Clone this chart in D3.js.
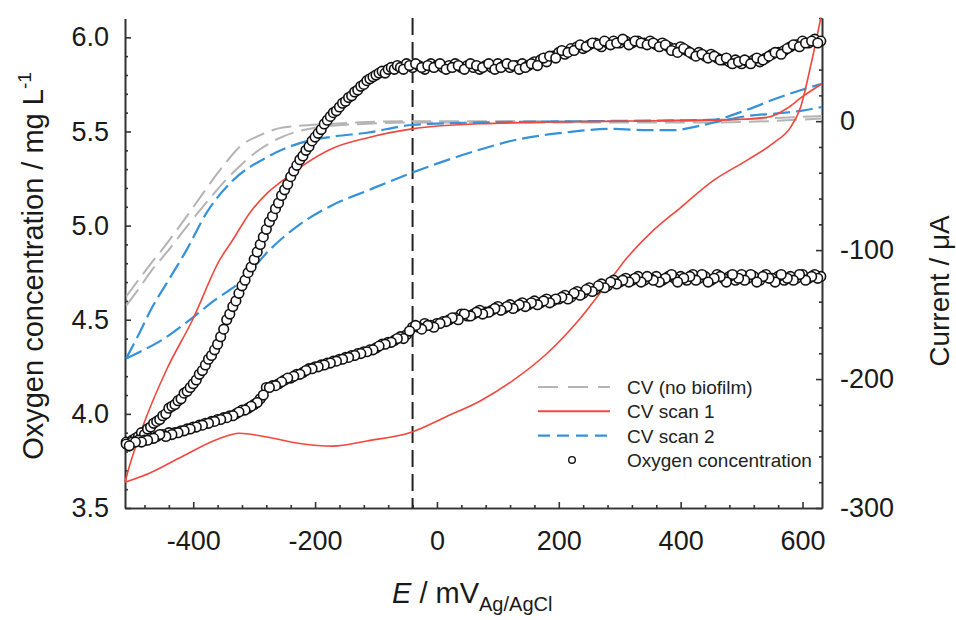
<!DOCTYPE html>
<html>
<head>
<meta charset="utf-8">
<script src="https://cdn.jsdelivr.net/npm/d3@7"></script>
<style>
  body { margin: 0; background: #fff; }
  svg { font-family: "Liberation Sans", Arial, sans-serif; }
  .axis path, .axis line { stroke: #333; stroke-width: 1.6; }
  .axis text { font-size: 27px; fill: #1a1a1a; }
</style>
</head>
<body>
<svg id="chart" width="956" height="620"></svg>
<script>
// =====================
// Data (E in mV vs Ag/AgCl)
// =====================
const xMajor = [-400, -200, 0, 200, 400, 600];
const yLeftMajor = [3.5, 4.0, 4.5, 5.0, 5.5, 6.0];
const yRightMajor = [-300, -200, -100, 0];
const markerE = -40;   // dashed vertical line

// Oxygen concentration, forward scan [E, mg/L]
const o2Forward = [
  [-510,3.85],[-505,3.83],[-500,3.86],[-495,3.87],[-490,3.88],[-485,3.90],[-480,3.89],[-475,3.92],[-470,3.93],
  [-465,3.95],[-460,3.96],[-455,3.97],[-450,3.99],[-445,4.00],[-440,4.03],[-435,4.04],[-430,4.05],[-425,4.07],
  [-420,4.08],[-415,4.11],[-410,4.12],[-405,4.14],[-400,4.16],[-395,4.18],[-390,4.21],[-385,4.23],[-380,4.26],
  [-375,4.29],[-370,4.31],[-365,4.34],[-360,4.37],[-355,4.41],[-350,4.45],[-345,4.50],[-340,4.53],[-335,4.57],
  [-330,4.60],[-325,4.64],[-320,4.68],[-315,4.71],[-310,4.75],[-305,4.78],[-300,4.82],[-295,4.86],[-290,4.90],
  [-285,4.94],[-280,4.98],[-275,5.02],[-270,5.05],[-265,5.09],[-260,5.12],[-255,5.16],[-250,5.19],[-245,5.22],
  [-240,5.26],[-235,5.29],[-230,5.32],[-225,5.35],[-220,5.37],[-215,5.40],[-210,5.42],[-205,5.45],[-200,5.47],
  [-195,5.49],[-190,5.51],[-185,5.54],[-180,5.56],[-175,5.58],[-170,5.60],[-165,5.61],[-160,5.63],[-155,5.65],
  [-150,5.66],[-145,5.68],[-140,5.69],[-135,5.71],[-130,5.72],[-125,5.74],[-120,5.75],[-115,5.77],[-110,5.78],
  [-105,5.79],[-100,5.80],[-95,5.81],[-90,5.82],[-85,5.81],[-80,5.83],[-75,5.84],[-70,5.83],[-65,5.85],[-60,5.84],
  [-50,5.86],[-40,5.84],[-30,5.85],[-20,5.83],[-10,5.86],[0,5.85],[10,5.84],[20,5.85],[30,5.86],[40,5.84],
  [50,5.85],[60,5.84],[70,5.83],[80,5.85],[90,5.84],[100,5.86],[110,5.85],[120,5.84],[130,5.85],[140,5.86],
  [150,5.85],[160,5.87],[170,5.88],[180,5.87],[190,5.90],[200,5.92],[210,5.91],[220,5.94],[230,5.95],[240,5.94],
  [250,5.96],[260,5.97],[270,5.95],[280,5.97],[290,5.98],[300,5.97],[310,5.98],[320,5.97],[330,5.98],[340,5.97],
  [350,5.98],[360,5.96],[370,5.97],[380,5.95],[390,5.94],[400,5.95],[410,5.93],[420,5.91],[430,5.92],[440,5.90],
  [450,5.91],[460,5.89],[470,5.88],[480,5.87],[490,5.88],[500,5.86],[510,5.87],[520,5.88],[530,5.87],[540,5.89],
  [550,5.91],[560,5.92],[570,5.93],[580,5.95],[590,5.96],[600,5.98],[610,5.97],[620,5.99],[630,5.98]
];
// extra scattered readings on the forward plateau
const o2ForwardScatter = [
  [-55,5.83],[-45,5.85],[-35,5.86],[-25,5.84],[-15,5.85],[-5,5.84],[5,5.86],[15,5.83],[25,5.84],[35,5.85],
  [45,5.83],[55,5.86],[65,5.85],[75,5.84],[85,5.86],[95,5.83],[105,5.84],[115,5.86],[125,5.85],[135,5.83],
  [145,5.84],[155,5.86],[165,5.85],[175,5.89],[185,5.90],[195,5.89],[205,5.93],[215,5.92],[225,5.93],[235,5.96],
  [245,5.95],[255,5.97],[265,5.96],[275,5.98],[285,5.96],[295,5.97],[305,5.99],[315,5.96],[325,5.98],[335,5.97],
  [345,5.96],[355,5.97],[365,5.95],[375,5.96],[385,5.93],[395,5.92],[405,5.94],[415,5.92],[425,5.90],[435,5.91],
  [445,5.89],[455,5.90],[465,5.88],[475,5.89],[485,5.86],[495,5.87],[505,5.88],[515,5.86],[525,5.89],[535,5.88],
  [545,5.90],[555,5.92],[565,5.91],[575,5.94],[585,5.96],[595,5.95],[605,5.97],[615,5.98],[625,5.97]
];

// Oxygen concentration, reverse scan [E, mg/L]
const o2Reverse = [
  [630,4.73],[620,4.74],[610,4.72],[600,4.74],[590,4.72],[580,4.73],[570,4.71],[560,4.73],[550,4.72],[540,4.74],
  [530,4.71],[520,4.73],[510,4.72],[500,4.74],[490,4.71],[480,4.73],[470,4.72],[460,4.74],[450,4.71],[440,4.73],
  [430,4.72],[420,4.74],[410,4.71],[400,4.73],[390,4.72],[380,4.73],[370,4.71],[360,4.73],[350,4.72],[340,4.71],
  [330,4.73],[320,4.71],[310,4.72],[300,4.70],[290,4.71],[280,4.68],[270,4.69],[260,4.66],[250,4.67],[240,4.64],
  [230,4.65],[220,4.62],[210,4.63],[200,4.61],[190,4.60],[180,4.61],[170,4.59],[160,4.60],[150,4.58],[140,4.59],
  [130,4.57],[120,4.58],[110,4.56],[100,4.57],[90,4.55],[80,4.54],[70,4.55],[60,4.53],[50,4.52],[40,4.53],
  [30,4.51],[20,4.50],[10,4.49],[0,4.48],[-10,4.47],[-20,4.48],[-30,4.46],[-40,4.46],[-50,4.42],[-60,4.41],
  [-70,4.39],[-80,4.38],[-90,4.37],[-100,4.35],[-110,4.34],[-120,4.33],[-130,4.32],[-140,4.31],[-150,4.30],
  [-160,4.29],[-170,4.28],[-180,4.27],[-190,4.26],[-200,4.25],[-210,4.24],[-220,4.22],[-230,4.21],[-240,4.19],
  [-250,4.18],[-260,4.16],[-270,4.15],[-280,4.14],[-290,4.08],[-300,4.05],[-310,4.03],[-320,4.02],[-330,4.00],
  [-340,3.99],[-350,3.98],[-360,3.97],[-370,3.96],[-380,3.95],[-390,3.94],[-400,3.93],[-410,3.92],[-420,3.91],
  [-430,3.90],[-440,3.90],[-450,3.89],[-460,3.88],[-470,3.87],[-480,3.86],[-490,3.86],[-500,3.85],[-510,3.84]
];
// extra scattered readings on the reverse branch
const o2ReverseScatter = [
  [625,4.72],[615,4.73],[605,4.71],[595,4.74],[585,4.71],[575,4.72],[565,4.74],[555,4.70],[545,4.72],[535,4.73],
  [525,4.70],[515,4.74],[505,4.71],[495,4.72],[485,4.74],[475,4.70],[465,4.73],[455,4.72],[445,4.70],[435,4.74],
  [425,4.71],[415,4.73],[405,4.72],[395,4.70],[385,4.74],[375,4.72],[365,4.70],[355,4.71],[345,4.73],[335,4.70],
  [325,4.72],[315,4.70],[305,4.71],[295,4.69],[285,4.70],[275,4.67],[265,4.68],[255,4.65],[245,4.66],[235,4.63],
  [225,4.64],[215,4.61],[205,4.62],[195,4.61],[185,4.59],[175,4.60],[165,4.58],[155,4.59],[145,4.57],[135,4.58],
  [125,4.56],[115,4.57],[105,4.55],[95,4.56],[85,4.54],[75,4.53],[65,4.54],[55,4.52],[45,4.53],[35,4.50],
  [25,4.51],[15,4.49],[5,4.48],[-5,4.46],[-15,4.47],[-25,4.45],[-35,4.47],[-45,4.44],[-55,4.40],[-65,4.40],
  [-75,4.38],[-85,4.37],[-95,4.36],[-105,4.34],[-115,4.33],[-125,4.32],[-135,4.31],[-145,4.30],[-155,4.29],
  [-165,4.28],[-175,4.27],[-185,4.26],[-195,4.25],[-205,4.24],[-215,4.23],[-225,4.21],[-235,4.20],[-245,4.19],
  [-255,4.17],[-265,4.15],[-275,4.14],[-285,4.10],[-295,4.06],[-305,4.04],[-315,4.02],[-325,4.01],[-335,3.99],
  [-345,3.98],[-355,3.97],[-365,3.96],[-375,3.95],[-385,3.94],[-395,3.93],[-405,3.92],[-415,3.91],[-425,3.90],
  [-435,3.89],[-445,3.88],[-455,3.89],[-465,3.87],[-475,3.86],[-485,3.85],[-495,3.85],[-505,3.83]
];

// CV without biofilm, two branches [E, uA]
const cvBlankA = [[-510,-136],[-488,-122],[-467,-109],[-450,-99],[-411,-74],[-378,-52],[-348,-33],[-324,-20],
  [-291,-11],[-253,-5],[-171,-2],[-40,0],[200,0],[450,1],[632,4]];
const cvBlankB = [[-510,-143],[-488,-129],[-467,-115],[-444,-102],[-411,-82],[-373,-60],[-335,-40],[-291,-22],
  [-253,-12],[-197,-5],[-115,-2],[-40,-1],[200,-1],[450,-1],[632,2]];

// CV scan 1 (red): lower and upper branch [E, uA]
const cv1Lower = [[-512,-280],[-472,-273],[-418,-260],[-362,-247],[-324,-242],[-279,-245],[-225,-250],
  [-171,-252],[-115,-248],[-41,-241],[16,-229],[71,-217],[125,-201],[181,-180],[235,-153],[289,-120],
  [312,-106],[350,-87],[400,-67],[454,-46],[510,-30],[552,-17],[580,-5],[597,11],[613,42],[630,80]];
const cv1Upper = [[-512,-280],[-505,-268],[-483,-237],[-444,-193],[-401,-154],[-357,-108],[-335,-92],
  [-307,-71],[-279,-56],[-253,-46],[-225,-36],[-171,-21],[-115,-13],[-41,-6],[71,-2],[300,0],[477,1],
  [542,3],[575,10],[597,18],[632,29]];

// CV scan 2 (blue): two branches [E, uA]
const cv2Upper = [[-510,-184],[-488,-164],[-467,-144],[-444,-126],[-411,-100],[-378,-71],[-335,-46],[-279,-28],
  [-225,-17],[-171,-12],[-115,-9],[-41,-3],[71,-1],[250,0],[449,1],[510,9],[559,18],[597,24],[632,29]];
const cv2Lower = [[-510,-184],[-488,-179],[-456,-171],[-411,-156],[-368,-140],[-319,-123],[-275,-100],
  [-225,-80],[-171,-65],[-115,-54],[-41,-40],[71,-22],[125,-15],[207,-9],[289,-6],[345,-7],[388,-7],
  [427,-4],[465,0],[510,4],[559,6],[597,8],[632,11]];

const legendItems = ['CV (no biofilm)', 'CV scan 1', 'CV scan 2', 'Oxygen concentration'];

// =====================
// Layout
// =====================
const
  plotLeft = 125, plotRight = 822, plotTop = 18, plotBottom = 508,
  red = '#f0483e', blue = '#3592d8', gray = '#b4b4b4';

const svg = d3.select('#chart');

const x = d3.scaleLinear([-512, 632], [plotLeft, plotRight]);
const yL = d3.scaleLinear([3.5, 6.1], [plotBottom, plotTop + 0.5]);
const yR = d3.scaleLinear([-300, 80], [plotBottom, plotTop]);
const plain = d => String(d);   // hyphen minus, as in the figure

// =====================
// Axes (ticks point inward)
// =====================
const minorX = d3.range(-480, 632, 40).filter(v => v % 200 !== 0);
const minorL = d3.range(36, 61).map(v => v / 10).filter(v => Math.round(v * 10) % 5 !== 0);
const minorR = d3.range(-280, 81, 20).filter(v => v % 100 !== 0);

svg.append('g').attr('class', 'axis')
  .attr('transform', 'translate(0,' + plotBottom + ')')
  .call(d3.axisBottom(x).tickValues(minorX).tickSize(-3).tickSizeOuter(0).tickFormat(''));
svg.append('g').attr('class', 'axis')
  .attr('transform', 'translate(0,' + plotBottom + ')')
  .call(d3.axisBottom(x).tickValues(xMajor).tickSize(-6).tickSizeOuter(0).tickPadding(23).tickFormat(plain));

svg.append('g').attr('class', 'axis')
  .attr('transform', 'translate(' + plotLeft + ',0)')
  .call(d3.axisLeft(yL).tickValues(minorL).tickSize(-3).tickSizeOuter(0).tickFormat(''));
svg.append('g').attr('class', 'axis')
  .attr('transform', 'translate(' + plotLeft + ',0)')
  .call(d3.axisLeft(yL).tickValues(yLeftMajor).tickSize(-6).tickSizeOuter(0).tickPadding(16).tickFormat(d3.format('.1f')));

svg.append('g').attr('class', 'axis')
  .attr('transform', 'translate(' + plotRight + ',0)')
  .call(d3.axisRight(yR).tickValues(minorR).tickSize(-3).tickSizeOuter(0).tickFormat(''));
svg.append('g').attr('class', 'axis')
  .attr('transform', 'translate(' + plotRight + ',0)')
  .call(d3.axisRight(yR).tickValues(yRightMajor).tickSize(-6).tickSizeOuter(0).tickPadding(18).tickFormat(plain));

// =====================
// Dashed marker line
// =====================
svg.append('line')
  .attr('x1', x(markerE)).attr('x2', x(markerE))
  .attr('y1', plotTop).attr('y2', plotBottom)
  .attr('stroke', '#222').attr('stroke-width', 2)
  .attr('stroke-dasharray', '17,7');

// =====================
// CV curves (right axis)
// =====================
const cvLine = d3.line().x(d => x(d[0])).y(d => yR(d[1])).curve(d3.curveMonotoneX);

function drawCV(data, color, width, dash) {
  svg.append('path')
    .attr('d', cvLine(data))
    .attr('fill', 'none')
    .attr('stroke', color)
    .attr('stroke-width', width)
    .attr('stroke-dasharray', dash);
}

drawCV(cvBlankA, gray, 2, '20,8');
drawCV(cvBlankB, gray, 2, '20,8');
drawCV(cv2Upper, blue, 2.2, '17,6');
drawCV(cv2Lower, blue, 2.2, '17,6');
drawCV(cv1Lower, red, 1.6, null);
drawCV(cv1Upper, red, 1.6, null);

// =====================
// Oxygen concentration (left axis)
// =====================
svg.append('g')
  .selectAll('circle')
  .data(o2Forward.concat(o2ForwardScatter, o2Reverse, o2ReverseScatter))
  .enter()
  .append('circle')
  .attr('cx', d => x(d[0]))
  .attr('cy', d => yL(d[1]))
  .attr('r', 4.8)
  .attr('fill', '#fff')
  .attr('stroke', '#111')
  .attr('stroke-width', 1.6);

// =====================
// Legend
// =====================
const legend = svg.append('g').attr('transform', 'translate(538,387)');
const legendStyle = [
  { color: gray, dash: '20,10', w: 2 },
  { color: red, dash: null, w: 2 },
  { color: blue, dash: '12,7', w: 2.4 }
];
legendStyle.forEach((s, i) => {
  legend.append('line')
    .attr('x1', 0).attr('x2', 72)
    .attr('y1', i * 24.3).attr('y2', i * 24.3)
    .attr('stroke', s.color).attr('stroke-width', s.w)
    .attr('stroke-dasharray', s.dash);
});
legend.append('circle')
  .attr('cx', 34).attr('cy', 3 * 24.3)
  .attr('r', 3.3).attr('fill', '#fff')
  .attr('stroke', '#111').attr('stroke-width', 1.4);
legend.selectAll('text.leg')
  .data(legendItems)
  .enter()
  .append('text')
  .attr('class', 'leg')
  .attr('x', 89)
  .attr('y', (d, i) => i * 24.3 + 7)
  .attr('font-size', 19)
  .attr('fill', '#222')
  .text(d => d);

// =====================
// Axis titles
// =====================
const xTitle = svg.append('text')
  .attr('x', 392).attr('y', 603)
  .attr('font-size', 29).attr('fill', '#1a1a1a');
xTitle.append('tspan').attr('font-style', 'italic').text('E');
xTitle.append('tspan').text(' / mV');
xTitle.append('tspan').attr('font-size', 20).attr('dy', 8).text('Ag/AgCl');

const yTitle = svg.append('text')
  .attr('transform', 'translate(43,266) rotate(-90)')
  .attr('text-anchor', 'middle')
  .attr('font-size', 29).attr('fill', '#1a1a1a');
yTitle.append('tspan').text('Oxygen concentration / mg L');
yTitle.append('tspan').attr('font-size', 19).attr('dy', -12).text('-1');

svg.append('text')
  .attr('transform', 'translate(949,291) rotate(-90)')
  .attr('text-anchor', 'middle')
  .attr('font-size', 28).attr('fill', '#1a1a1a')
  .text('Current / μA');
</script>
</body>
</html>
